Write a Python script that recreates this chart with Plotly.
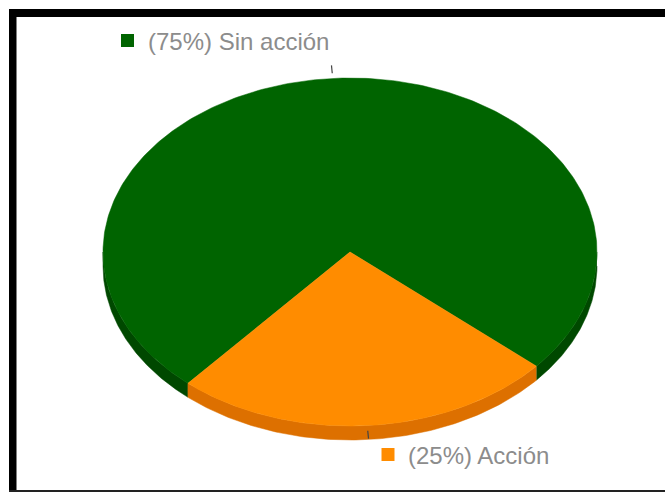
import numpy as np
import plotly.graph_objects as go

# ---- data ----
labels = ["Sin acción", "Acción"]
values = [75, 25]
top_colors = ["#006400", "#FF8C00"]
side_colors = ["#004800", "#DD7000"]

# ---- geometry (layout constants) ----
W, H = 665, 493
cx, cy = 350, 252
a, b = 247, 174
depth = 14
start_deg = 131  # parametric angle where the first slice starts (clockwise on screen)

total = float(sum(values))
fig = go.Figure()

def ell(t_deg, s=1.0, dy=0.0):
    t = np.radians(t_deg)
    return cx + a * s * np.cos(t), cy + b * s * np.sin(t) + dy

# compute slice spans
spans = []
acc = start_deg
for v in values:
    span = v / total * 360.0
    spans.append((acc, acc + span))
    acc += span

# sides (visible front half: angles 0..180 mod 360)
for (t1, t2), col in zip(spans, side_colors):
    for k in (-360, 0, 360):
        lo, hi = max(t1, 0 + k), min(t2, 180 + k)
        if hi > lo:
            ts = np.linspace(lo, hi, 120)
            xt, yt = ell(ts)
            xb, yb = ell(ts[::-1], dy=depth)
            fig.add_trace(go.Scatter(
                x=np.concatenate([xt, xb]), y=np.concatenate([yt, yb]),
                fill="toself", fillcolor=col, mode="lines",
                line=dict(color=col, width=0.5), hoverinfo="skip", showlegend=False))

# top faces
for (t1, t2), col, lab, v in zip(spans, top_colors, labels, values):
    ts = np.linspace(t1, t2, 300)
    xe, ye = ell(ts)
    fig.add_trace(go.Scatter(
        x=np.concatenate([[cx], xe, [cx]]), y=np.concatenate([[cy], ye, [cy]]),
        fill="toself", fillcolor=col, mode="lines",
        line=dict(color=col, width=0.5), name=lab,
        text=f"{lab}: {v}", hoverinfo="text", showlegend=False))

# leader ticks
for (t1, t2) in spans:
    tm = (t1 + t2) / 2
    x1, y1 = ell(tm, 1.03)
    x2, y2 = ell(tm, 1.075)
    fig.add_trace(go.Scatter(x=[x1, x2], y=[y1, y2], mode="lines",
                             line=dict(color="#444444", width=1.2),
                             hoverinfo="skip", showlegend=False))

# legend-like labels
legend_pos = [(127.5, 40.5), (388, 454.5)]
for (lx, ly), lab, v, col in zip(legend_pos, labels, values, top_colors):
    pct = round(v / total * 100)
    fig.add_trace(go.Scatter(x=[lx], y=[ly], mode="markers",
                             marker=dict(symbol="square", size=13, color=col),
                             hoverinfo="skip", showlegend=False))
    fig.add_annotation(x=lx + 18, y=ly + 1, xref="x", yref="y",
                       text=f"({pct}%) {lab}", showarrow=False,
                       xanchor="left", yanchor="middle",
                       font=dict(family="Liberation Sans, Arial", size=24, color="#8c8c8c"))

# frame
fig.add_shape(type="rect", xref="x", yref="y", x0=9, x1=W + 5, y0=9, y1=17,
              fillcolor="black", line=dict(width=0), layer="above")
fig.add_shape(type="rect", xref="x", yref="y", x0=9, x1=16.5, y0=9, y1=492,
              fillcolor="black", line=dict(width=0), layer="above")
fig.add_shape(type="rect", xref="x", yref="y", x0=9, x1=W + 5, y0=490, y1=492,
              fillcolor="#222222", line=dict(width=0), layer="above")

fig.update_layout(
    width=W, height=H, margin=dict(l=0, r=0, t=0, b=0),
    paper_bgcolor="white", plot_bgcolor="white",
    xaxis=dict(range=[0, W], visible=False, fixedrange=True),
    yaxis=dict(range=[H, 0], visible=False, fixedrange=True),
    showlegend=False,
)

fig.write_html("out.html")
